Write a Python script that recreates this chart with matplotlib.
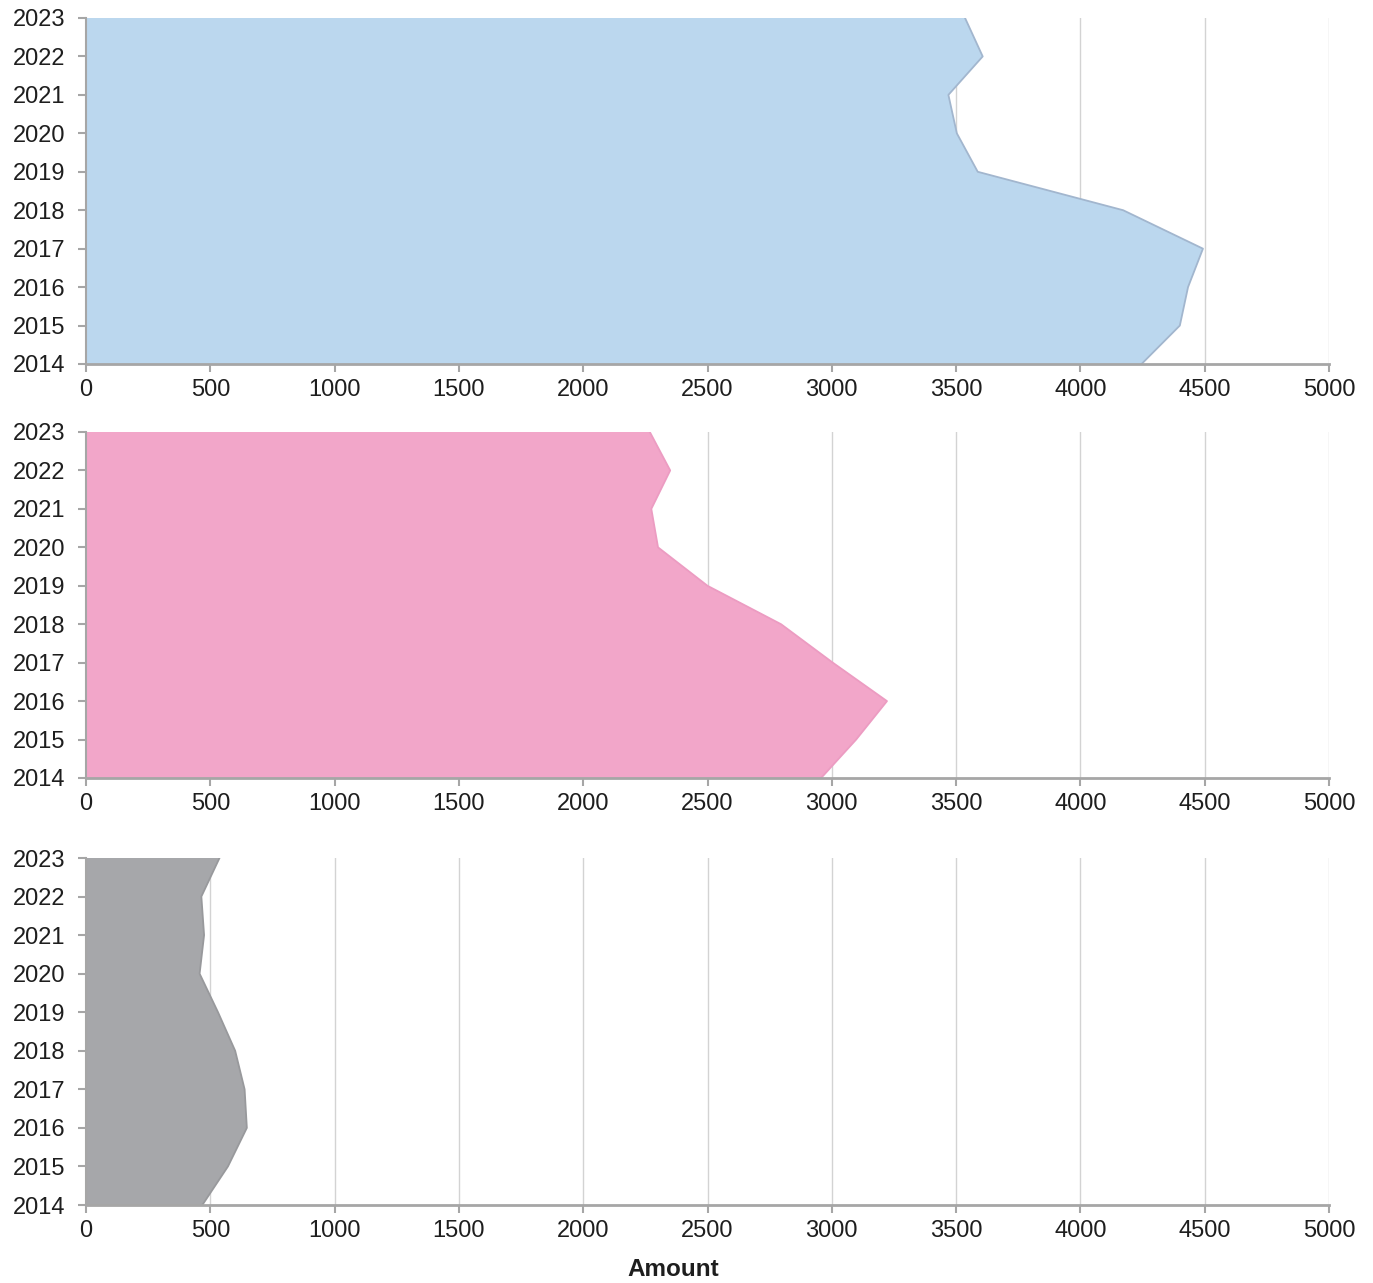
import matplotlib
matplotlib.use("Agg")
import matplotlib.pyplot as plt

plt.rcParams['font.family'] = ['Liberation Sans', 'DejaVu Sans']

years = [2014, 2015, 2016, 2017, 2018, 2019, 2020, 2021, 2022, 2023]
series_blue = [4246, 4400, 4433, 4493, 4172, 3587, 3503, 3469, 3607, 3536]
series_pink = [2957, 3098, 3222, 3004, 2796, 2500, 2301, 2274, 2350, 2268]
series_gray = [468, 571, 647, 638, 600, 531, 457, 475, 464, 537]
xticks = [0, 500, 1000, 1500, 2000, 2500, 3000, 3500, 4000, 4500, 5000]

panels = [
    (series_blue, '#BBD7EE', '#A2B6CE'),
    (series_pink, '#F2A6C9', '#EC9CC2'),
    (series_gray, '#A6A7AA', '#98999C'),
]

W, H = 1373, 1283
fig = plt.figure(figsize=(W / 100, H / 100), dpi=100)
tops = [18, 432, 858]
bottoms = [364, 778, 1205]
left, right = 86, 1329
spine_c = '#A6A6A6'
txt_c = '#1E1E1E'
for (vals, fc, ec), t, b in zip(panels, tops, bottoms):
    ax = fig.add_axes([left / W, 1 - b / H, (right - left) / W, (b - t) / H])
    ax.fill_betweenx(years, 0, vals, facecolor=fc, edgecolor='none', zorder=2)
    ax.plot(vals, years, color=ec, lw=1.3, zorder=3)
    ax.set_xlim(0, 5000)
    ax.set_ylim(2014, 2023)
    ax.set_xticks(xticks)
    ax.set_xticklabels([str(v) for v in xticks])
    ax.set_yticks(years)
    ax.set_yticklabels([str(y) for y in years])
    for x in xticks[1:]:
        ax.axvline(x, color='#D3D3D3', lw=1, zorder=1)
    for s in ['top', 'right']:
        ax.spines[s].set_visible(False)
    ax.spines['left'].set_color(spine_c)
    ax.spines['left'].set_linewidth(1.5)
    ax.spines['bottom'].set_color(spine_c)
    ax.spines['bottom'].set_linewidth(2)
    ax.spines['left'].set_zorder(4)
    ax.spines['bottom'].set_zorder(4)
    ax.tick_params(axis='y', length=6, width=1.5, color=spine_c, labelsize=17, pad=9, labelcolor=txt_c)
    ax.tick_params(axis='x', length=6, width=1.5, color=spine_c, labelsize=17, pad=5, labelcolor=txt_c)

fig.text(673 / W, 1 - 1270 / H, 'Amount', fontsize=17.5, fontweight='bold',
         color=txt_c, ha='center', va='center')
fig.savefig('out.png', dpi=100)
